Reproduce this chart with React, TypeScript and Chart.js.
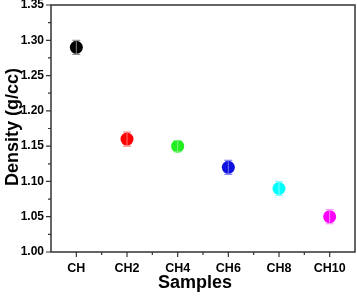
import React, { useEffect, useRef } from "react";
import { Chart, registerables } from "chart.js";

Chart.register(...registerables);

const categories = ["CH", "CH2", "CH4", "CH6", "CH8", "CH10"];
const densities = [1.29, 1.16, 1.15, 1.12, 1.09, 1.05];
const errors = [0.01, 0.01, 0.008, 0.01, 0.01, 0.01];
const pointColors = ["#000000", "#ff0000", "#22ee22", "#1010e0", "#00ffff", "#ff00ff"];
const errorColors = ["#808080", "#ff7070", "#80f080", "#7070f0", "#80ffff", "#ff80ff"];
const yTicks = [1.0, 1.05, 1.1, 1.15, 1.2, 1.25, 1.3, 1.35];

const AXIS_COLOR = "#333333";
const FONT = "'Liberation Sans', Arial, sans-serif";

const framePlugin = {
  id: "frame",
  afterDatasetsDraw(chart: any) {
    const { ctx, scales } = chart;
    const x = scales.x;
    const y = scales.y;
    ctx.save();
    densities.forEach((v, i) => {
      const px = x.getPixelForValue(i);
      const top = y.getPixelForValue(v + errors[i]);
      const bot = y.getPixelForValue(v - errors[i]);
      ctx.strokeStyle = errorColors[i];
      ctx.lineWidth = 1;
      ctx.beginPath();
      ctx.moveTo(px, top);
      ctx.lineTo(px, bot);
      ctx.moveTo(px - 4, top);
      ctx.lineTo(px + 4, top);
      ctx.moveTo(px - 4, bot);
      ctx.lineTo(px + 4, bot);
      ctx.stroke();
    });
    ctx.restore();
  },
  afterDraw(chart: any) {
    const { ctx, chartArea, scales } = chart;
    const x = scales.x;
    const y = scales.y;
    ctx.save();
    ctx.strokeStyle = AXIS_COLOR;
    ctx.lineWidth = 1.5;
    ctx.beginPath();
    ctx.rect(chartArea.left, chartArea.top, chartArea.right - chartArea.left, chartArea.bottom - chartArea.top);
    ctx.stroke();
    ctx.lineWidth = 1.2;
    ctx.beginPath();
    for (let i = 0; i < categories.length; i++) {
      const px = x.getPixelForValue(i);
      ctx.moveTo(px, chartArea.bottom);
      ctx.lineTo(px, chartArea.bottom + 5);
      if (i < categories.length - 1) {
        const mx = (px + x.getPixelForValue(i + 1)) / 2;
        ctx.moveTo(mx, chartArea.bottom);
        ctx.lineTo(mx, chartArea.bottom + 3);
      }
    }
    for (let i = 0; i < yTicks.length; i++) {
      const py = y.getPixelForValue(yTicks[i]);
      ctx.moveTo(chartArea.left, py);
      ctx.lineTo(chartArea.left - 5, py);
      if (i < yTicks.length - 1) {
        const my = (py + y.getPixelForValue(yTicks[i + 1])) / 2;
        ctx.moveTo(chartArea.left, my);
        ctx.lineTo(chartArea.left - 3, my);
      }
    }
    ctx.stroke();
    ctx.fillStyle = "#000";
    ctx.font = `bold 18px ${FONT}`;
    ctx.textAlign = "center";
    ctx.textBaseline = "middle";
    ctx.fillText("Samples", 195, 283);
    ctx.translate(13, 127);
    ctx.rotate(-Math.PI / 2);
    ctx.fillText("Density (g/cc)", 0, 0);
    ctx.restore();
  },
};

export default function App() {
  const ref = useRef<HTMLCanvasElement>(null);
  useEffect(() => {
    document.body.style.margin = "0";
    const chart = new Chart(ref.current!, {
      type: "line",
      data: {
        labels: categories,
        datasets: [
          {
            data: densities,
            showLine: false,
            pointRadius: 6.5,
            pointHoverRadius: 6.5,
            pointBackgroundColor: pointColors,
            pointBorderColor: pointColors,
            pointBorderWidth: 0,
          },
        ],
      },
      options: {
        animation: false,
        responsive: false,
        events: [],
        layout: { autoPadding: false, padding: { top: 5, right: 2, left: 0, bottom: 0 } },
        plugins: { legend: { display: false }, tooltip: { enabled: false } },
        scales: {
          x: {
            type: "category",
            offset: true,
            grid: { display: false, drawTicks: false },
            border: { display: false },
            ticks: {
              color: "#000",
              font: { family: FONT, size: 12.5, weight: "bold" },
              padding: 9,
              maxRotation: 0,
            },
            afterFit(s: any) {
              s.height = 44;
              s.paddingLeft = 0;
              s.paddingRight = 0;
            },
          },
          y: {
            type: "linear",
            min: 1.0,
            max: 1.35,
            grid: { display: false, drawTicks: false },
            border: { display: false },
            afterBuildTicks(s: any) {
              s.ticks = yTicks.map((v) => ({ value: v }));
            },
            ticks: {
              color: "#000",
              font: { family: FONT, size: 12, weight: "bold" },
              padding: 7,
              callback: (v: any) => Number(v).toFixed(2),
            },
            afterFit(s: any) {
              s.width = 51;
              s.paddingTop = 0;
              s.paddingBottom = 0;
            },
          },
        },
      },
      plugins: [framePlugin],
    });
    return () => chart.destroy();
  }, []);
  return (
    <div style={{ position: "absolute", left: 0, top: 0, width: 357, height: 296, background: "#fff" }}>
      <canvas ref={ref} width={357} height={296} />
    </div>
  );
}
